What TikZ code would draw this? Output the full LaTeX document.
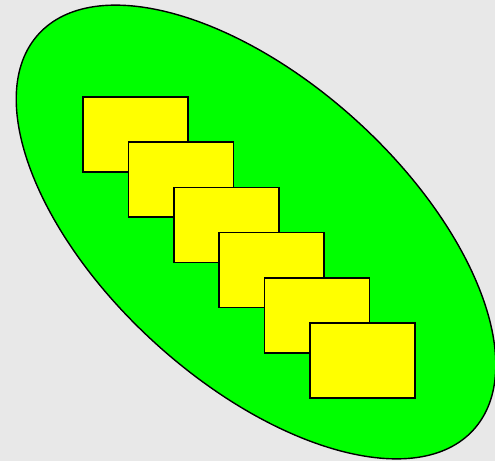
\documentclass[tikz,border=0pt]{standalone}
\usetikzlibrary{shapes.geometric}
\definecolor{marble}{RGB}{232,232,232}
\definecolor{leaf}{RGB}{0,255,0}
\definecolor{lemon}{RGB}{255,255,0}
\tikzset{
  cell/.style ={ellipse, draw=black, line width=1.4pt, fill=leaf,
                minimum width=588pt, minimum height=300pt, inner sep=0pt},
  card/.style ={rectangle, draw=black, line width=1.6pt, fill=lemon,
                minimum width=105pt, minimum height=75pt, inner sep=0pt}
}
\begin{document}
\begin{tikzpicture}[x=1pt, y=1pt]
    \fill[marble] (0,0) rectangle (495,461);
    \useasboundingbox (0,0) rectangle (495,461);
    \node[cell, rotate=-42.3] (body) at (256,229) {};
    % stack of cards along the long axis
    \foreach \i in {0,...,5} {
      \node[card] (c\i) at ({135.5+45.4*\i},{326.5-45.2*\i}) {};
    }
  \end{tikzpicture}
\end{document}
